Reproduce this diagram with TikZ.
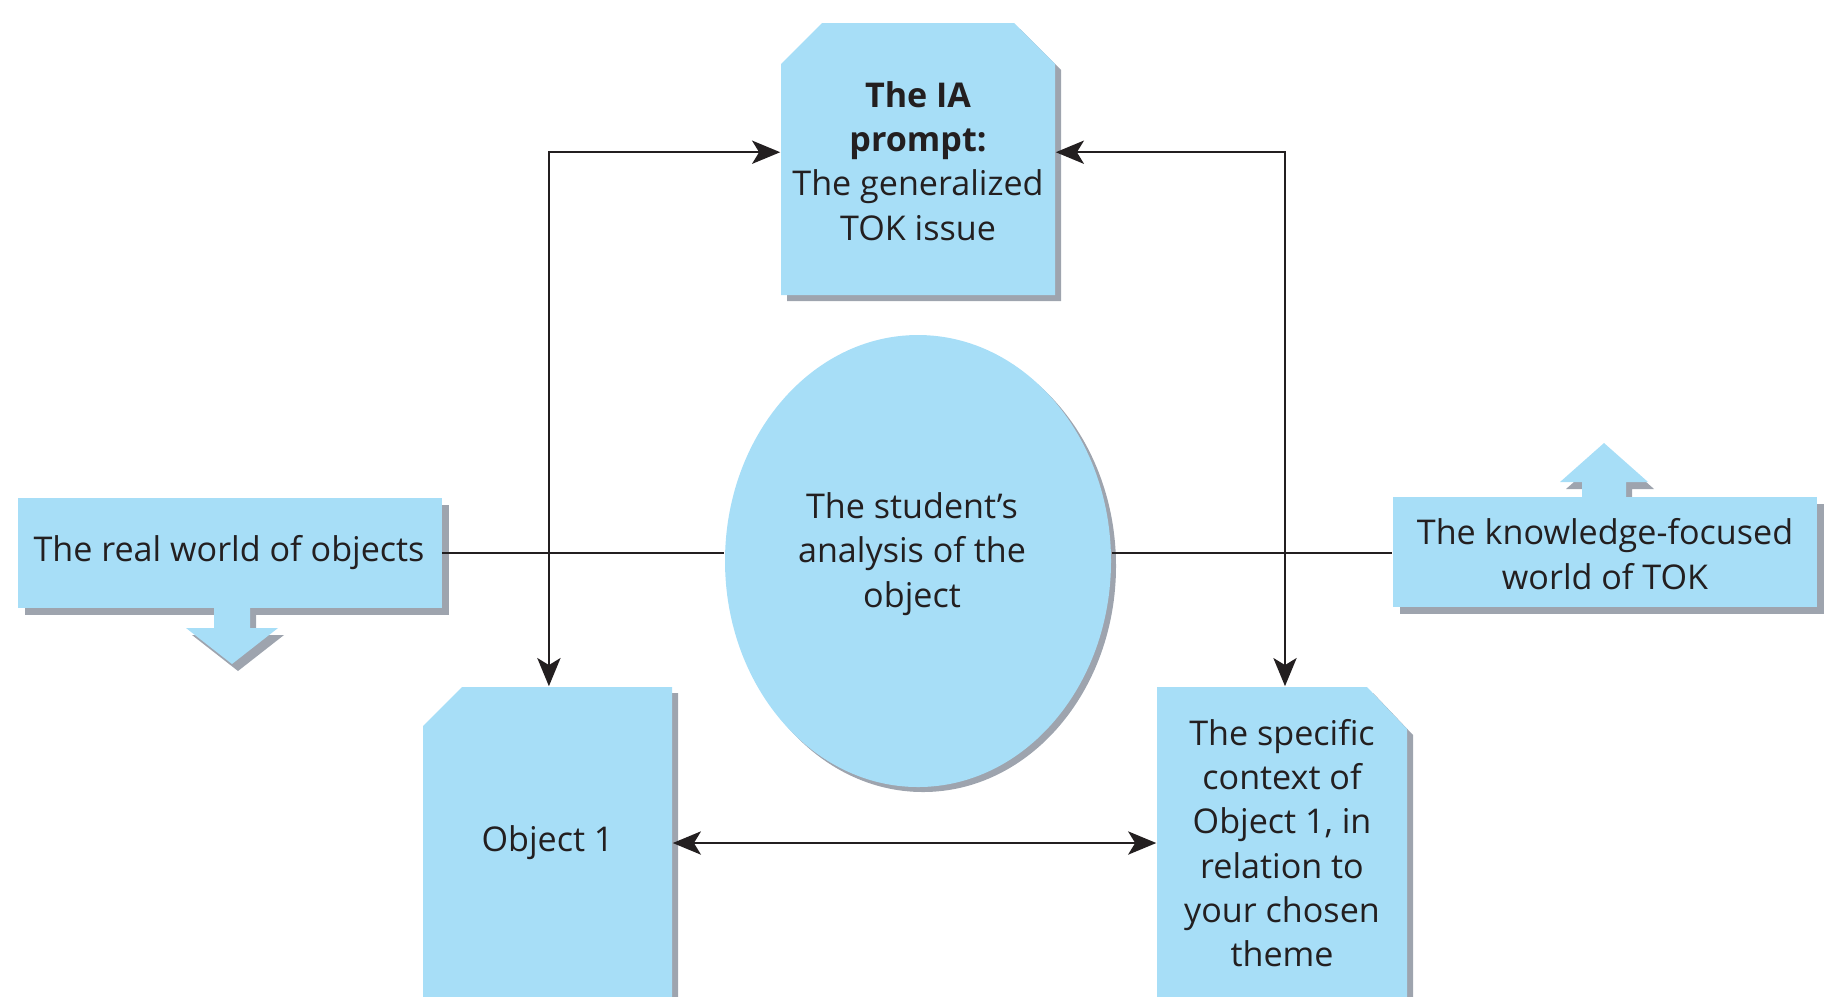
\documentclass[tikz,border=0pt]{standalone}
\usepackage{fontspec}
\setmainfont{Open Sans}
\usetikzlibrary{arrows.meta}
\definecolor{boxfill}{RGB}{167,222,247}
\definecolor{shadowc}{RGB}{158,164,174}
\definecolor{inkc}{RGB}{35,31,32}
\tikzset{
  txt/.style={inner sep=0pt, align=center, text=inkc, font=\fontsize{9.7pt}{12.6pt}\selectfont},
  conn/.style={draw=inkc, line width=0.7pt},
  arr/.style={conn, {Stealth[length=8pt,width=6.6pt,inset=2pt]}-{Stealth[length=8pt,width=6.6pt,inset=2pt]}},
  shade/.style={fill=shadowc},
  body/.style={fill=boxfill},
}
\begin{document}
\begin{tikzpicture}[x=0.01cm,y=-0.01cm]
\useasboundingbox (0,0) rectangle (1825,996);
\clip (0,0) rectangle (1825,996);
% ---- shapes: shadows
\fill[shade] (787,70) -- (828,29) -- (1020,29) -- (1061,70) -- (1061,301) -- (787,301) -- cycle;
\fill[shade] (25,505) rectangle (449,615);
\fill[shade] (220,615) -- (256,615) -- (256,635) -- (284,635) -- (238,671) -- (192,635) -- (220,635) -- cycle;
\fill[shade] (1400,504) rectangle (1824,614);
\fill[shade] (1588,504) -- (1588,489) -- (1566,489) -- (1610,450) -- (1654,489) -- (1632,489) -- (1632,504) -- cycle;
\fill[shade] (923,566) ellipse [x radius=193, y radius=226];
\fill[shade] (429,732) -- (468,693) -- (678,693) -- (678,1010) -- (429,1010) -- cycle;
\fill[shade] (1163,693) -- (1373,693) -- (1413,735) -- (1413,1010) -- (1163,1010) -- cycle;
% ---- shapes: bodies
\fill[body] (781,64) -- (822,23) -- (1014,23) -- (1055,64) -- (1055,295) -- (781,295) -- cycle;
\fill[body] (18,498) rectangle (442,608);
\fill[body] (214,600) -- (250,600) -- (250,628) -- (278,628) -- (232,664) -- (186,628) -- (214,628) -- cycle;
\fill[body] (1393,497) rectangle (1817,607);
\fill[body] (1582,505) -- (1582,482) -- (1560,482) -- (1604,443) -- (1648,482) -- (1626,482) -- (1626,505) -- cycle;
\fill[body] (918,561) ellipse [x radius=193, y radius=226];
\fill[body] (423,726) -- (462,687) -- (672,687) -- (672,1004) -- (423,1004) -- cycle;
\fill[body] (1157,687) -- (1367,687) -- (1407,729) -- (1407,1004) -- (1157,1004) -- cycle;
% ---- nodes
\node[txt, minimum width=77.96pt, minimum height=77.39pt] (top) at (918,161)
  {\textbf{The IA}\\\textbf{prompt:}\\The generalized\\TOK issue};
\node[txt, minimum width=120.6pt, minimum height=31.3pt] (left) at (229,553)
  {The real world of objects};
\node[txt, minimum width=120.6pt, minimum height=31.3pt] (right) at (1605,554)
  {The knowledge-focused\\world of TOK};
\node[inner sep=0pt, minimum width=109.8pt, minimum height=128.6pt] (ell) at (918,561) {};
\node[txt] (elltext) at (912,554) {The student’s\\analysis of the\\object};
\node[txt, minimum width=70.85pt, minimum height=88.8pt] (obj1) at (547.5,843) {Object 1};
\node[txt, minimum width=71.1pt, minimum height=88.8pt] (spec) at (1282,843)
  {The specific\\context of\\Object 1, in\\relation to\\your chosen\\theme};
% ---- connectors
\draw[conn] (left.east) -- (ell.west |- left.east);
\draw[conn] (ell.east |- left.east) -- (right.west |- left.east);
\draw[arr] ([xshift=0.4pt]obj1.north) |- ([yshift=2.5pt]top.west);
\draw[arr] ([xshift=0.85pt]spec.north) |- ([yshift=2.5pt]top.east);
\draw[arr] (obj1.east) -- (spec.west);
\end{tikzpicture}
\end{document}
